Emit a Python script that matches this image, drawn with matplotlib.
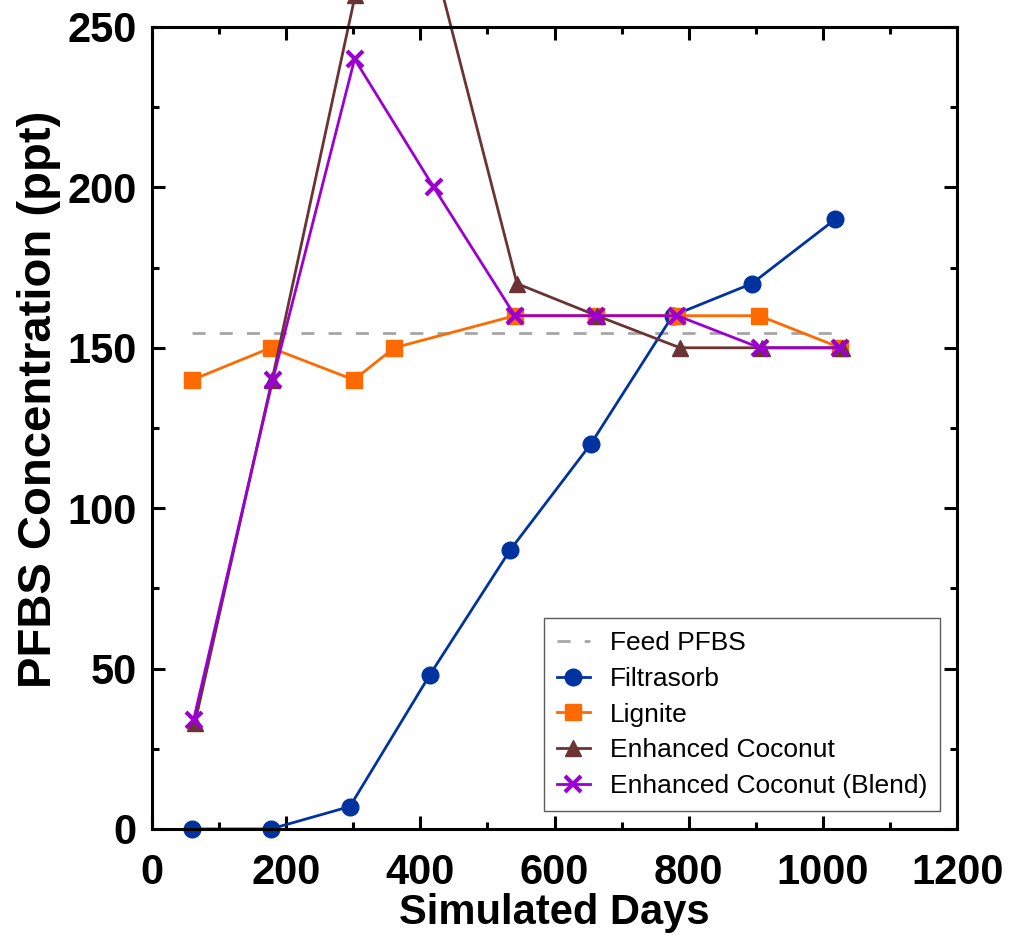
import matplotlib
matplotlib.use("Agg")
import matplotlib.pyplot as plt
from matplotlib.ticker import MultipleLocator

plt.rcParams['font.family'] = ['Liberation Sans', 'DejaVu Sans']

feed_x = [60, 1026]
feed_y = [154.6, 154.6]

filt_x = [60, 177, 295, 414, 534, 654, 776, 894, 1018]
filt_y = [0, 0, 7, 48, 87, 120, 160, 170, 190]

lig_x = [60, 177, 301, 361, 541, 662, 783, 905, 1026]
lig_y = [140, 150, 140, 150, 160, 160, 160, 160, 150]

coco_x = [64, 179, 303, 420, 544, 663, 787, 909, 1029]
coco_y = [33, 140, 260, 271, 170, 160, 150, 150, 150]

blend_x = [62, 180, 302, 420, 541, 662, 783, 906, 1026]
blend_y = [34, 140, 240, 200, 160, 160, 160, 150, 150]

fig = plt.figure(figsize=(10.09, 9.40), dpi=100)
ax = fig.add_axes([0.1506, 0.1181, 0.798, 0.8532])

ax.plot(feed_x, feed_y, ls=(0, (4.7, 5.1)), color='#a6a6a6', lw=2.0, label='Feed PFBS')
ax.plot(filt_x, filt_y, '-o', color='#0033a0', lw=2.0, ms=12, label='Filtrasorb', clip_on=False)
ax.plot(lig_x, lig_y, '-s', color='#ff6a00', lw=2.0, ms=11.5, label='Lignite', clip_on=False)
ax.plot(coco_x, coco_y, '-^', color='#6b3333', lw=2.0, ms=11, label='Enhanced Coconut', clip_on=False)
ax.plot(blend_x, blend_y, '-x', color='#9b00d0', lw=2.0, ms=11, mew=3, label='Enhanced Coconut (Blend)', clip_on=False)

ax.set_xlim(0, 1200)
ax.set_ylim(0, 250)
ax.xaxis.set_major_locator(MultipleLocator(200))
ax.xaxis.set_minor_locator(MultipleLocator(100))
ax.yaxis.set_major_locator(MultipleLocator(50))
ax.yaxis.set_minor_locator(MultipleLocator(25))
ax.tick_params(which='both', direction='in', top=True, right=True, width=2.2)
ax.tick_params(which='major', length=9.5, labelsize=30)
ax.tick_params(axis='x', which='major', pad=17)
ax.tick_params(axis='y', which='major', pad=11)
ax.tick_params(which='minor', length=5)
for lab in ax.get_xticklabels() + ax.get_yticklabels():
    lab.set_fontweight('bold')
for s in ax.spines.values():
    s.set_linewidth(2.2)

ax.set_xlabel('Simulated Days', fontsize=30, fontweight='bold', labelpad=0)
ax.set_ylabel('PFBS Concentration (ppt)', fontsize=34, fontweight='bold', labelpad=6)
ax.yaxis.set_label_coords(-0.113, 0.536)

leg = ax.legend(loc='lower right', bbox_to_anchor=(0.979, 0.0224), borderaxespad=0,
                fontsize=19, frameon=True, fancybox=False, edgecolor='#333333',
                handlelength=1.25, handletextpad=0.75, labelspacing=0.44,
                borderpad=0.5)
leg.get_frame().set_linewidth(1.0)

fig.savefig('out.png', dpi=100)
